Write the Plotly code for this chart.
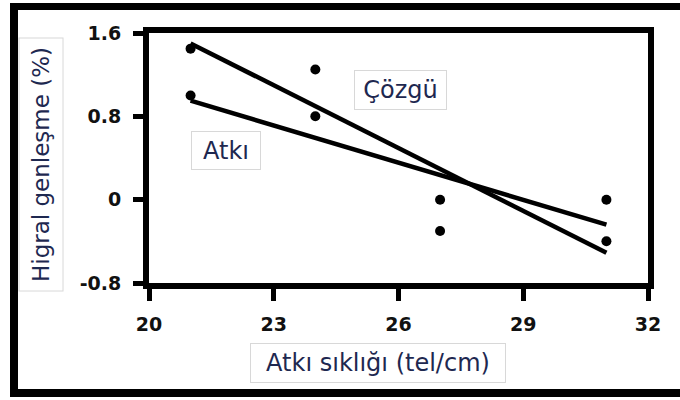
import plotly.graph_objects as go

# ---- data ----
x_vals = [21, 24, 27, 31]
cozgu_vals = [1.45, 1.25, -0.30, -0.40]
atki_vals = [1.00, 0.80, 0.00, 0.00]
trend_x = [21, 31]
cozgu_trend = [1.50, -0.51]
atki_trend = [0.95, -0.24]
x_ticks = [20, 23, 26, 29, 32]
y_ticks = [-0.8, 0, 0.8, 1.6]
y_tick_labels = ["-0.8", "0", "0.8", "1.6"]
x_title = "Atkı sıklığı (tel/cm)"
y_title = "Higral genleşme (%)"
series_names = ["Çözgü", "Atkı"]

# ---- layout geometry ----
FW, FH = 680, 400
L, R, T, B = 149, 32, 33, 117
PW, PH = FW - L - R, FH - T - B


def px(xp):
    return (xp - L) / PW


def py(yp):
    return (FH - B - yp) / PH


TXT = "#1e2850"
FONT = "DejaVu Sans"

fig = go.Figure()
fig.add_trace(go.Scatter(x=trend_x, y=cozgu_trend, mode="lines",
                         line=dict(color="black", width=4.5), showlegend=False))
fig.add_trace(go.Scatter(x=trend_x, y=atki_trend, mode="lines",
                         line=dict(color="black", width=4.5), showlegend=False))
fig.add_trace(go.Scatter(x=x_vals, y=cozgu_vals, mode="markers",
                         marker=dict(color="black", size=10), name=series_names[0],
                         showlegend=False))
fig.add_trace(go.Scatter(x=x_vals, y=atki_vals, mode="markers",
                         marker=dict(color="black", size=10), name=series_names[1],
                         showlegend=False))

axis_common = dict(showgrid=False, zeroline=False, showline=True, linecolor="black",
                   linewidth=6, mirror=True, ticks="outside", tickcolor="black",
                   tickwidth=5,
                   tickfont=dict(family=FONT, size=19, color="#111111", weight="bold"))

fig.update_xaxes(range=[20, 32], tickvals=x_ticks, ticklen=12,
                 ticklabelstandoff=7, **axis_common)
fig.update_yaxes(range=[-0.8, 1.6], tickvals=y_ticks, ticktext=y_tick_labels,
                 ticklen=10, ticklabelstandoff=8, **axis_common)

annotations = [
    dict(text=x_title, x=px(378), y=py(363), width=252, height=36),
    dict(text=y_title, x=px(40.5), y=py(165), width=250, height=41, textangle=-90),
    dict(text=series_names[1], x=px(226), y=py(150.5), width=66, height=35),
    dict(text=series_names[0], x=px(400.5), y=py(90), width=89, height=36),
]
for a in annotations:
    a.update(xref="paper", yref="paper", xanchor="center", yanchor="middle",
             showarrow=False, bgcolor="white", bordercolor="#d8d8d8",
             borderwidth=1, borderpad=1,
             font=dict(family=FONT, size=24, color=TXT))
    if "textangle" in a:
        a["font"]["size"] = 23

shapes = [
    dict(type="line", x0=px(14), x1=px(14), y0=py(6.5), y1=py(393), line_width=8),
    dict(type="line", x0=px(10), x1=px(700), y0=py(6.5), y1=py(6.5), line_width=7),
    dict(type="line", x0=px(10), x1=px(700), y0=py(393), y1=py(393), line_width=8),
]
for s in shapes:
    s.update(xref="paper", yref="paper", line_color="black")

fig.update_layout(width=FW, height=FH, margin=dict(l=L, r=R, t=T, b=B),
                  paper_bgcolor="white", plot_bgcolor="white",
                  annotations=annotations, shapes=shapes, showlegend=False)

fig.write_html("out.html")
